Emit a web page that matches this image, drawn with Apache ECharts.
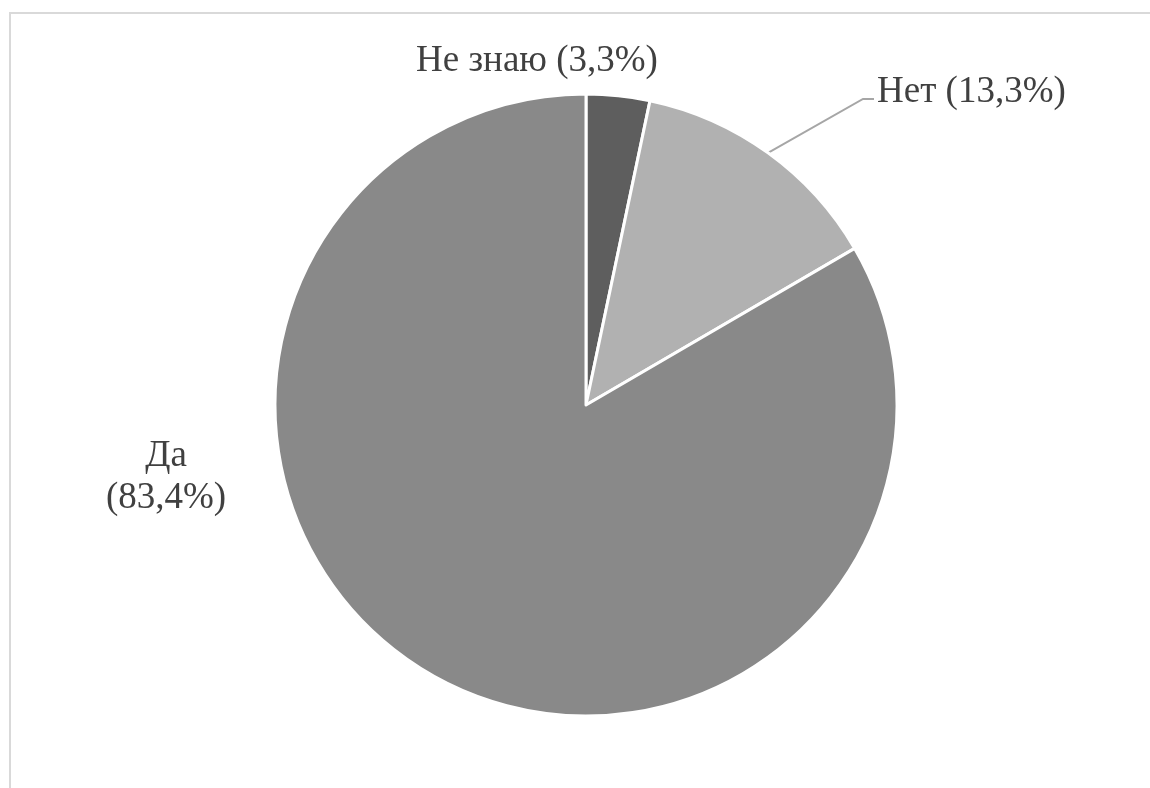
<!DOCTYPE html>
<html>
<head>
<meta charset="utf-8">
<script src="https://cdn.jsdelivr.net/npm/echarts@6/dist/echarts.min.js"></script>
<style>html,body{margin:0;padding:0;background:#fff;}#c{width:1150px;height:788px;}</style>
</head>
<body>
<div id="c"></div>
<script>
const categories = ['Не знаю', 'Нет', 'Да'];
const values = [3.3, 13.3, 83.4];
const colors = ['#5e5e5e', '#b1b1b1', '#898989'];

const fmt = v => String(v).replace('.', ',');
const data = categories.map((c, i) => ({
  name: c,
  value: values[i],
  itemStyle: { color: colors[i] },
  labelLine: { show: i === 1 }
}));

const chart = echarts.init(document.getElementById('c'));
chart.setOption({
  animation: false,
  graphic: [{
    type: 'rect', silent: true,
    shape: { x: 10, y: 13, width: 1300, height: 900 },
    style: { fill: 'none', stroke: '#d9d9d9', lineWidth: 2 }
  }],
  series: [{
    type: 'pie',
    center: [586, 405],
    radius: 311,
    startAngle: 90,
    clockwise: true,
    data: data,
    itemStyle: { borderColor: '#ffffff', borderWidth: 3 },
    label: {
      show: true,
      position: 'outside',
      fontFamily: 'Liberation Serif',
      fontSize: 37,
      color: '#404040',
      lineHeight: 42,
      formatter: p => p.dataIndex === 2 ? p.name + '\n(' + fmt(p.value) + '%)' : p.name + ' (' + fmt(p.value) + '%)'
    },
    labelLine: { lineStyle: { color: '#a6a6a6', width: 2 } },
    labelLayout: function (p) {
      if (p.dataIndex === 0) return { x: 537, y: 61, align: 'center', verticalAlign: 'middle' };
      if (p.dataIndex === 1) {
        const s = p.labelLinePoints ? p.labelLinePoints[0] : [768, 152];
        return { x: 877, y: 92, align: 'left', verticalAlign: 'middle',
          labelLinePoints: [s, [863, 99], [874, 99]] };
      }
      return { x: 166, y: 477, align: 'center', verticalAlign: 'middle' };
    }
  }]
});
</script>
</body>
</html>
